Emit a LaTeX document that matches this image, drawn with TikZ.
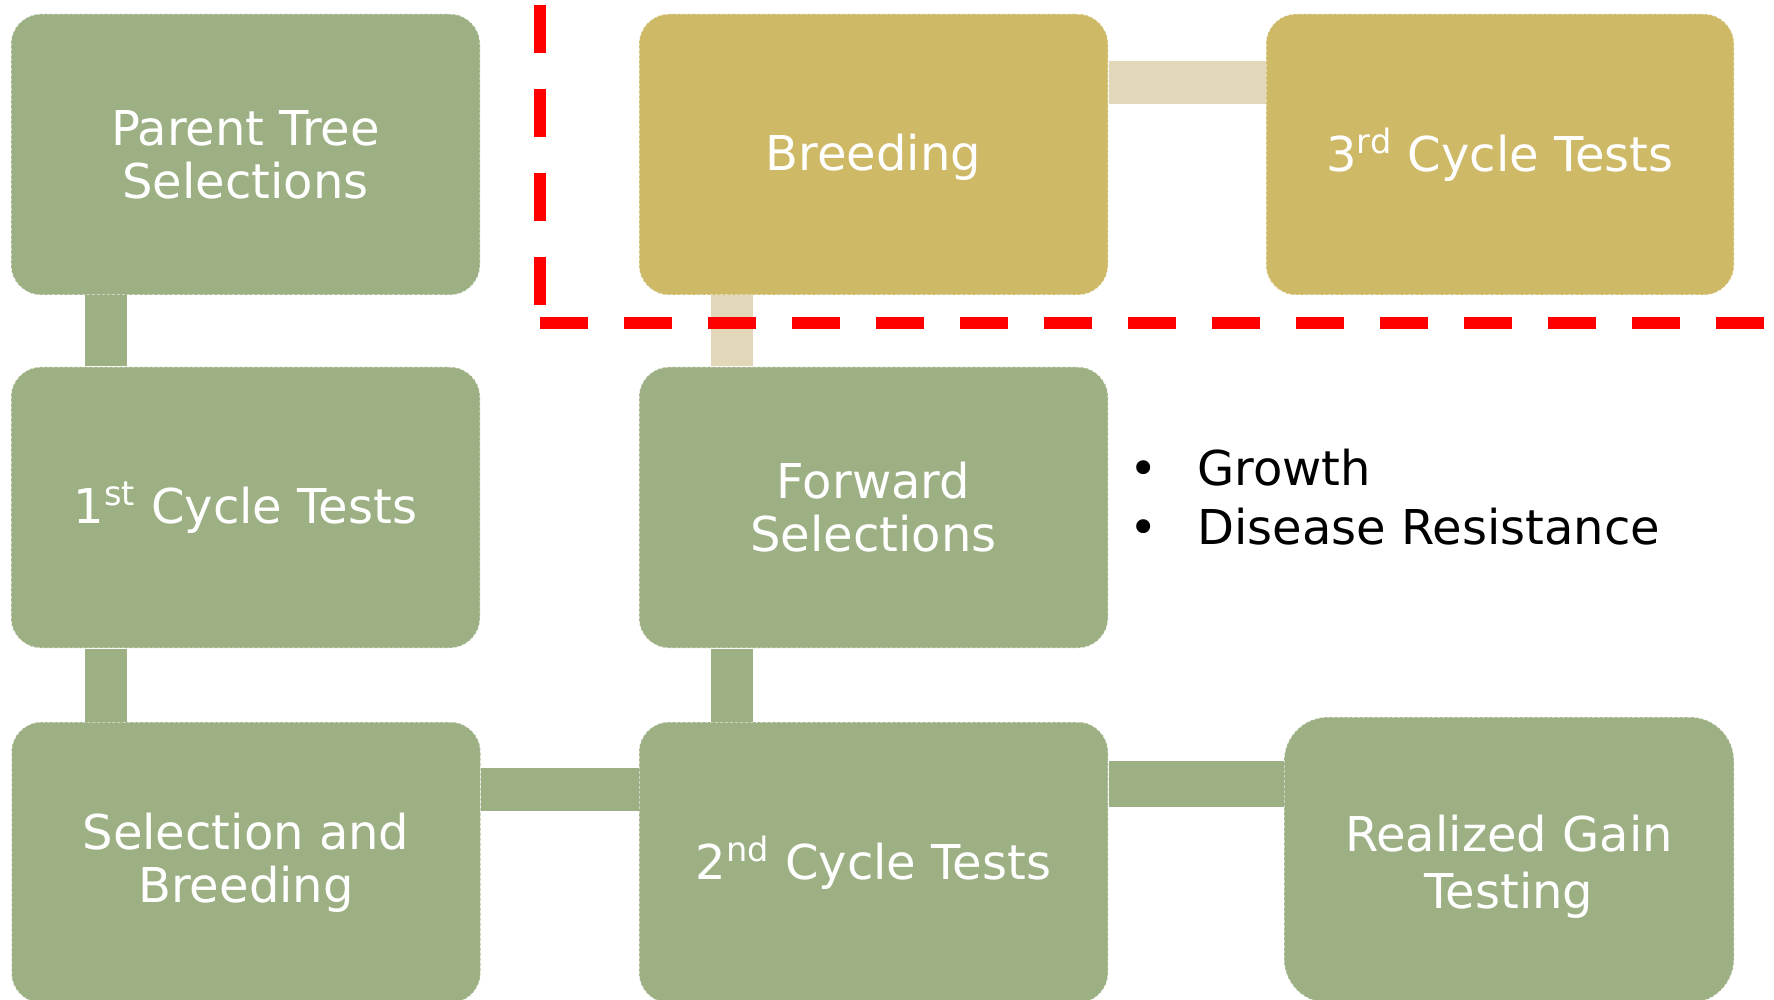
\documentclass[tikz,border=0pt]{standalone}
\usepackage{fontspec}
\setmainfont{DejaVu Sans}
\definecolor{boxgreen}{HTML}{9DB084}
\definecolor{boxgold}{HTML}{CEB966}
\definecolor{linkbeige}{HTML}{E2D8B9}
\definecolor{redline}{HTML}{FF0000}
\begin{document}
\begin{tikzpicture}[x=0.5pt,y=-0.5pt,
  box/.style={rectangle, rounded corners=15pt, minimum width=234.5pt, minimum height=140.5pt,
    inner sep=0pt, text=white, align=center, font=\fontsize{24}{26.5}\selectfont,
    draw=white, draw opacity=0.75, line width=0.5pt, dash pattern=on 1.5pt off 1pt},
  gbox/.style={box, fill=boxgreen},
  ybox/.style={box, fill=boxgold},
  gbar/.style={draw=boxgreen, line width=21pt, line cap=butt},
  bbar/.style={draw=linkbeige, line width=21pt, line cap=butt},
  bul/.style={inner sep=0pt, text=black, font=\fontsize{24}{29}\selectfont},
  redl/.style={draw=redline, line width=6pt, dash pattern=on 24pt off 18pt, line cap=butt}]
\useasboundingbox (0,0) rectangle (1774,1000);
\begin{scope}
\clip (0,0) rectangle (1774,1000);
% boxes
\node[gbox] (pt) at (245.5,154.5) {Parent Tree\\Selections};
\node[gbox] (first) at (245.5,507.5) {1\textsuperscript{st} Cycle Tests};
\node[gbox] (sb) at (246,862.5) {Selection and\\Breeding};
\node[ybox] (br) at (873.5,154.5) {\rule{0pt}{21pt}Breeding};
\node[ybox, minimum width=234pt] (third) at (1500,154.5) {3\textsuperscript{rd} Cycle Tests};
\node[gbox] (fw) at (873.5,507.5) {Forward\\Selections};
\node[gbox] (second) at (873.5,862.5) {2\textsuperscript{nd} Cycle Tests};
\node[gbox, minimum width=225pt, minimum height=143pt, rounded corners=22pt,
  font=\fontsize{24}{28.5}\selectfont] (rg) at (1509,860) {\rule{0pt}{24.5pt}Realized Gain\\Testing};
% connector guides
\coordinate (cA) at (105.5,0);
\coordinate (cC) at (731.5,0);
\coordinate (r1) at (0,82.5);
\coordinate (r2) at (0,789.5);
\coordinate (r3) at (0,784);
% connectors
\draw[gbar] (pt.south -| cA) -- (first.north -| cA);
\draw[gbar] (first.south -| cA) -- (sb.north -| cA);
\draw[bbar] (br.south -| cC) -- (fw.north -| cC);
\draw[gbar] (fw.south -| cC) -- (second.north -| cC);
\draw[bbar, line width=21.5pt] (br.east |- r1) -- (third.west |- r1);
\draw[gbar, line width=21.5pt] (sb.east |- r2) -- (second.west |- r2);
\draw[gbar, line width=23pt] (second.east |- r3) -- (rg.west |- r3);
% bullets
\node[bul, anchor=base west] (g1) at (1129,486) {\makebox[34pt][l]{•}Growth};
\node[bul, anchor=base west] (g2) at (1129,544) {\makebox[34pt][l]{•}Disease Resistance};
% red dashed boundary
\draw[redl] (540,5) -- (540,305);
\draw[redl] (540,323) -- (1774,323);
\end{scope}
\end{tikzpicture}
\end{document}
